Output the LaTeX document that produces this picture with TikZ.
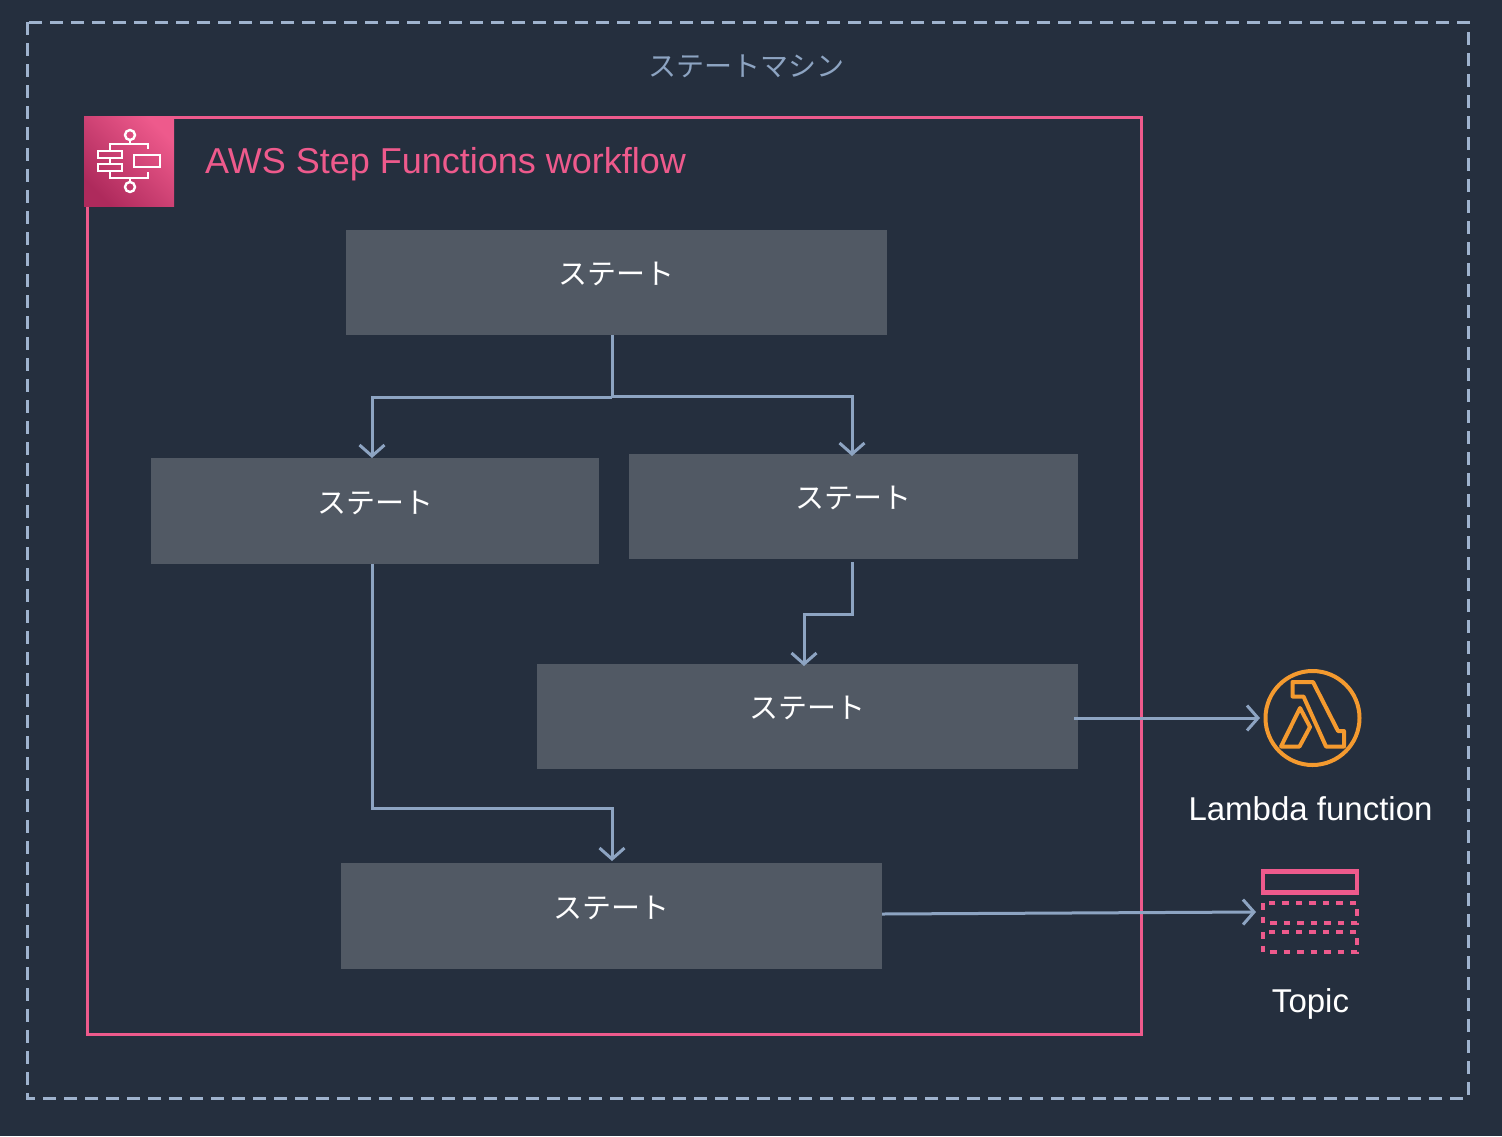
\documentclass[tikz,border=0pt]{standalone}
\usepackage{fontspec}
\setmainfont{Liberation Sans}
\newfontfamily\cjk{Noto Sans CJK JP}
\usetikzlibrary{arrows.meta}
\definecolor{bgdark}{HTML}{252F3E}
\definecolor{boxgray}{HTML}{515964}
\definecolor{pinkline}{HTML}{EE5A8C}
\definecolor{tiledark}{HTML}{AE2A5C}
\definecolor{slateline}{HTML}{8DA4C2}
\definecolor{dashgray}{HTML}{9FB3CE}
\definecolor{orangeline}{HTML}{F49A2F}
\tikzset{
  statebox/.style={fill=boxgray, text=white, font=\cjk\fontsize{29}{29}\selectfont,
    inner sep=0pt, outer sep=0pt, text depth=18pt},
  flow/.style={draw=slateline, line width=3pt,
    -{Straight Barb[length=11pt,width=25pt,line width=3pt]}},
  flowline/.style={draw=slateline, line width=3pt},
  iconline/.style={draw=white, line width=2.4pt},
  caption/.style={text=white, font=\fontsize{33}{33}\selectfont, inner sep=0pt},
}
\begin{document}
\begin{tikzpicture}[x=1pt, y=-1pt]%
   % Background and page size, in pixels of the picture
   \fill[bgdark] (0,0) rectangle (1502,1136);
   \useasboundingbox (0,0) rectangle (1502,1136);

   % State machine frame
   \draw[dashgray, line width=3pt, dash pattern=on 13pt off 8pt] (27,22) rectangle (1468,1098);
   \node[text=slateline, font=\cjk\fontsize{28}{28}\selectfont, inner sep=0pt] (machine) at (746,66) {ステートマシン};

   % Workflow frame
   \draw[pinkline, line width=3pt] (87,117) rectangle (1141,1034);
   \shade[left color=pinkline, right color=tiledark, shading angle=-45] (84,116) rectangle (174,206);
   \node[anchor=west, text=pinkline, font=\fontsize{36}{36}\selectfont, inner sep=0pt] (workflow) at (205,164) {AWS Step Functions workflow};

   % Workflow icon
   \draw[iconline] (130,135) circle (5);
   \draw[iconline] (130,187) circle (5);
   \draw[iconline] (130,140) -- (130,144);
   \draw[iconline] (130,178) -- (130,182);
   \draw[iconline] (148,149) -- (148,144) -- (110,144) -- (110,151);
   \draw[iconline] (110,158) -- (110,164);
   \draw[iconline] (110,171) -- (110,178) -- (148,178) -- (148,172);
   \draw[iconline] (98,151) rectangle (122,158);
   \draw[iconline] (98,164) rectangle (122,171);
   \draw[iconline] (134,155) rectangle (160,167);

   % States
   \node[statebox, minimum width=541pt, minimum height=105pt] (state1) at (616.5,282.5) {ステート};
   \node[statebox, minimum width=448pt, minimum height=106pt] (state2) at (375,511) {ステート};
   \node[statebox, minimum width=449pt, minimum height=105pt] (state3) at (853.5,506.5) {ステート};
   \node[statebox, minimum width=541pt, minimum height=105pt] (state4) at (807.5,716.5) {ステート};
   \node[statebox, minimum width=541pt, minimum height=106pt] (state5) at (611.5,916) {ステート};

   % Lambda function
   \node[circle, draw=orangeline, line width=4pt, minimum size=94pt, inner sep=0pt] (lambda) at (1312.5,718) {};
   \draw[orangeline, line width=4pt, line join=round]
     (1292.5,682) -- (1313,682) -- (1338,731) -- (1344,731) -- (1344,746.5) -- (1326,746.5) -- (1303.5,696.5) -- (1292.5,696.5) -- cycle;
   \draw[orangeline, line width=4pt, line join=round]
     (1300,708) -- (1310,727) -- (1299.5,746.5) -- (1281,746.5) -- cycle;
   \node[caption] (lambdatext) at (1310.5,809) {Lambda function};

   % Topic
   \node[draw=pinkline, line width=4.4pt, minimum width=94pt, minimum height=21pt, inner sep=0pt] (topic) at (1310,882) {};
   \draw[pinkline, line width=4pt, dash pattern=on 6.5pt off 7pt] (1263,903) rectangle (1357,923);
   \draw[pinkline, line width=4pt, dash pattern=on 6.5pt off 7pt] (1263,932) rectangle (1357,952);
   \node[caption] (topictext) at (1310.5,1004) {Topic};

   % Connectors
   \coordinate (split) at (612,396);
   \coordinate (leftend) at (372,458);
   \coordinate (rightend) at (852,456);
   \draw[flowline] (state1.south -| split) -- (split);
   \draw[flow] (split) ++(0,1) -| (leftend);
   \draw[flow] (split) -| (rightend);

   \coordinate (down2) at (372,808);
   \coordinate (end5) at (612,861);
   \draw[flow] (state2.south -| down2) -- (down2) -| (end5);

   \coordinate (down3) at (852,562);
   \coordinate (bend3) at (852,614);
   \coordinate (end4) at (804,666);
   \draw[flow] (down3) -- (bend3) -| (end4);

   \coordinate (start4) at (1074,718);
   \coordinate (endlambda) at (1260,718);
   \draw[flow] (start4) -- (endlambda);

   \coordinate (start5) at (882,914);
   \coordinate (endtopic) at (1256,912);
   \draw[flow] (start5) -- (endtopic);
 \end{tikzpicture}
\end{document}
